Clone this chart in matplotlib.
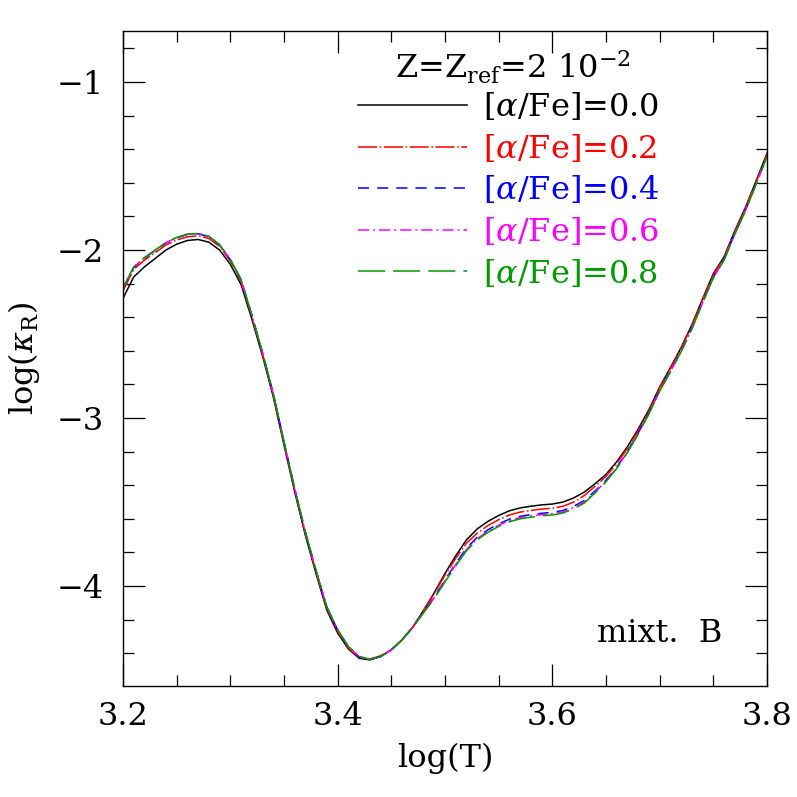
import matplotlib
matplotlib.use("Agg")
import matplotlib.pyplot as plt
from matplotlib.ticker import MultipleLocator

plt.rcParams['font.family'] = ['DejaVu Serif']
plt.rcParams['mathtext.fontset'] = 'dejavuserif'
plt.rcParams['lines.scale_dashes'] = False

logT = [3.20, 3.21, 3.22, 3.23, 3.24, 3.25, 3.26, 3.27, 3.28, 3.29,
        3.30, 3.31, 3.32, 3.33, 3.34, 3.35, 3.36, 3.37, 3.38, 3.39,
        3.40, 3.41, 3.42, 3.43, 3.44, 3.45, 3.46, 3.47, 3.48, 3.49,
        3.50, 3.51, 3.52, 3.53, 3.54, 3.55, 3.56, 3.57, 3.58, 3.59,
        3.60, 3.61, 3.62, 3.63, 3.64, 3.65, 3.66, 3.67, 3.68, 3.69,
        3.70, 3.71, 3.72, 3.73, 3.74, 3.75, 3.76, 3.77, 3.78, 3.79, 3.80]

kappa_00 = [-2.288, -2.16, -2.10, -2.05, -2.00, -1.965, -1.943, -1.937, -1.953, -2.00,
            -2.085, -2.205, -2.41, -2.63, -2.873, -3.16, -3.44, -3.70, -3.93, -4.145,
            -4.28, -4.375, -4.43, -4.44, -4.42, -4.38, -4.32, -4.245, -4.145, -4.04,
            -3.925, -3.82, -3.725, -3.66, -3.615, -3.58, -3.552, -3.535, -3.525, -3.517,
            -3.512, -3.50, -3.475, -3.44, -3.39, -3.335, -3.26, -3.17, -3.065, -2.95,
            -2.815, -2.70, -2.58, -2.445, -2.29, -2.14, -2.04, -1.885, -1.745, -1.585, -1.424]

kappa_02 = [-2.243, -2.115, -2.06, -2.015, -1.97, -1.94, -1.921, -1.915, -1.931, -1.978,
            -2.065, -2.185, -2.395, -2.62, -2.863, -3.15, -3.43, -3.69, -3.92, -4.135,
            -4.27, -4.37, -4.425, -4.435, -4.415, -4.38, -4.32, -4.245, -4.145, -4.045,
            -3.935, -3.835, -3.745, -3.685, -3.64, -3.605, -3.577, -3.56, -3.55, -3.542,
            -3.537, -3.525, -3.50, -3.46, -3.405, -3.347, -3.27, -3.18, -3.075, -2.96,
            -2.82, -2.705, -2.585, -2.45, -2.295, -2.145, -2.045, -1.89, -1.75, -1.59, -1.429]

kappa_04 = [-2.23, -2.105, -2.048, -2.003, -1.958, -1.928, -1.907, -1.903, -1.92, -1.97,
            -2.057, -2.177, -2.387, -2.612, -2.855, -3.142, -3.422, -3.682, -3.912, -4.127,
            -4.262, -4.362, -4.422, -4.436, -4.42, -4.38, -4.32, -4.245, -4.155, -4.065,
            -3.965, -3.865, -3.775, -3.71, -3.665, -3.63, -3.602, -3.585, -3.575, -3.567,
            -3.562, -3.55, -3.525, -3.49, -3.433, -3.37, -3.292, -3.198, -3.089, -2.97,
            -2.835, -2.72, -2.60, -2.465, -2.31, -2.16, -2.056, -1.901, -1.761, -1.601, -1.44]

kappa_06 = [-2.228, -2.102, -2.046, -2.001, -1.956, -1.926, -1.906, -1.902, -1.919, -1.969,
            -2.056, -2.176, -2.386, -2.611, -2.854, -3.141, -3.421, -3.681, -3.911, -4.126,
            -4.261, -4.361, -4.421, -4.436, -4.42, -4.38, -4.32, -4.245, -4.158, -4.07,
            -3.97, -3.872, -3.783, -3.718, -3.673, -3.638, -3.61, -3.593, -3.583, -3.575,
            -3.57, -3.558, -3.533, -3.498, -3.44, -3.375, -3.296, -3.202, -3.092, -2.973,
            -2.838, -2.723, -2.603, -2.468, -2.313, -2.163, -2.058, -1.903, -1.763, -1.603, -1.442]

kappa_08 = [-2.226, -2.10, -2.045, -2.00, -1.955, -1.925, -1.905, -1.901, -1.918, -1.968,
            -2.055, -2.175, -2.385, -2.61, -2.853, -3.14, -3.42, -3.68, -3.91, -4.125,
            -4.26, -4.36, -4.42, -4.435, -4.42, -4.38, -4.32, -4.245, -4.16, -4.075,
            -3.975, -3.88, -3.79, -3.725, -3.68, -3.645, -3.617, -3.60, -3.59, -3.582,
            -3.577, -3.565, -3.54, -3.505, -3.445, -3.38, -3.30, -3.205, -3.095, -2.975,
            -2.84, -2.725, -2.605, -2.47, -2.315, -2.165, -2.06, -1.905, -1.765, -1.605, -1.444]

labels = [r'[$\alpha$/Fe]=0.0', r'[$\alpha$/Fe]=0.2', r'[$\alpha$/Fe]=0.4',
          r'[$\alpha$/Fe]=0.6', r'[$\alpha$/Fe]=0.8']
series = [kappa_00, kappa_02, kappa_04, kappa_06, kappa_08]
colors = ['black', '#ff0000', '#0000ff', '#ff00ff', '#009900']
styles = ['-', (0, (13.7, 2.0, 1.1, 1.8)), (0, (8, 5.8)),
          (0, (8, 2.9, 1.4, 2.9)), (0, (19.5, 5.8))]

FS = 23

fig = plt.figure(figsize=(7.97, 7.97), dpi=100)
ax = fig.add_axes([0.1543, 0.1393, 0.8081, 0.8218])

handles = []
for y, c, ls, lab in zip(series, colors, styles, labels):
    h, = ax.plot(logT, y, color=c, linestyle=ls, linewidth=1.1, label=lab)
    handles.append(h)

ax.set_xlim(3.2, 3.8)
ax.set_ylim(-4.595, -0.696)
ax.xaxis.set_major_locator(MultipleLocator(0.2))
ax.xaxis.set_minor_locator(MultipleLocator(0.05))
ax.yaxis.set_major_locator(MultipleLocator(1))
ax.yaxis.set_minor_locator(MultipleLocator(0.2))
ax.tick_params(which='both', direction='in', top=True, right=True, width=0.9, color='black')
ax.tick_params(which='major', length=15.5, labelsize=FS)
ax.tick_params(which='minor', length=7.7)
ax.tick_params(axis='x', which='major', pad=11)
ax.tick_params(axis='y', which='major', pad=14)
for s in ax.spines.values():
    s.set_linewidth(1.0)

ax.set_xlabel('log(T)', fontsize=FS)
ax.set_ylabel(r'log($\kappa_{\rm R}$)', fontsize=FS)
ax.xaxis.set_label_coords(0.5, -0.087)
ax.yaxis.set_label_coords(-0.126, 0.5)

ax.text(0.6056, 0.945, r'Z=Z$_{\rm ref}$=2 10$^{-2}$', transform=ax.transAxes,
        ha='center', va='center', fontsize=FS)

leg = ax.legend(handles=handles, loc='upper left', bbox_to_anchor=(0.365, 0.908),
                frameon=False, fontsize=FS, handlelength=3.4, handletextpad=0.5,
                labelspacing=0.3, borderpad=0, borderaxespad=0)
for t, c in zip(leg.get_texts(), colors):
    t.set_color(c)

ax.text(0.930, 0.067, 'mixt.  B', transform=ax.transAxes, ha='right', va='baseline',
        fontsize=FS)

fig.savefig('out.png', dpi=100)
